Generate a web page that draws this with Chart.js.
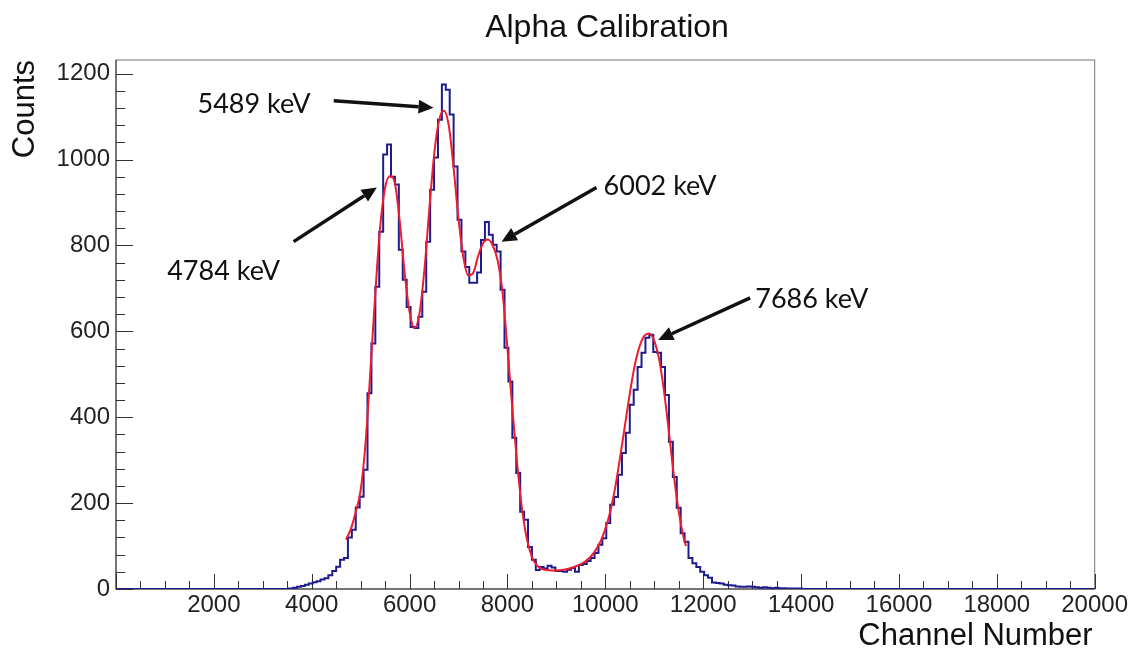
<!DOCTYPE html>
<html>
<head>
<meta charset="utf-8">
<script src="https://cdn.jsdelivr.net/npm/chart.js@4.4.1/dist/chart.umd.min.js"></script>
<style>
  html, body { margin: 0; padding: 0; background: #fff; }
  #c { display: block; }
</style>
</head>
<body>
<canvas id="c" width="1130" height="648"></canvas>
<script>
// histogram: 80-channel bins, first bin starts at channel 3540
const binStart = 3540;
const binWidth = 80;
const counts = [
  1, 3, 5, 7, 10, 13, 16, 18, 22, 25,
  32, 42, 52, 68, 72, 120, 138, 190, 215, 278,
  456, 572, 704, 832, 1012, 1035, 960, 942, 790, 720,
  657, 610, 608, 634, 692, 809, 930, 1005, 1093, 1175,
  1163, 1105, 984, 860, 786, 750, 713, 713, 737, 813,
  855, 825, 802, 786, 697, 562, 483, 352, 270, 180,
  161, 98, 68, 44, 51, 48, 54, 50, 42, 42,
  40, 45, 49, 40, 56, 58, 65, 72, 84, 103,
  118, 154, 196, 214, 266, 317, 364, 429, 464, 517,
  550, 585, 592, 552, 550, 517, 452, 343, 261, 189,
  130, 110, 72, 60, 51, 40, 32, 26, 15, 14,
  13, 10, 9, 8, 6, 5, 5, 6, 5, 4,
  3, 4, 3, 2, 3, 2, 2, 1, 1, 1, 1
];

// fitted curve
const fitX = [4700, 4800, 4900, 5000, 5100, 5200, 5300, 5400, 5500, 5600,
  5700, 5800, 5900, 6000, 6100, 6200, 6300, 6400, 6500, 6600,
  6700, 6800, 6900, 7000, 7100, 7200, 7300, 7400, 7500, 7600,
  7700, 7800, 7900, 8000, 8100, 8200, 8300, 8400, 8500, 8600,
  8700, 8800, 8900, 9000, 9100, 9200, 9300, 9400, 9500, 9600,
  9700, 9800, 9900, 10000, 10100, 10200, 10300, 10400, 10500, 10600,
  10700, 10800, 10900, 11000, 11100, 11200, 11300, 11400, 11500, 11600, 11650];
const fitY = [115, 140, 180, 230, 340, 510, 690, 845, 935, 962,
  945, 855, 735, 645, 608, 640, 740, 880, 1010, 1090,
  1114, 1080, 980, 862, 772, 730, 736, 775, 805, 814,
  800, 765, 690, 560, 420, 290, 185, 115, 75, 55,
  47, 44, 43, 43, 44, 46, 49, 53, 58, 65,
  75, 90, 110, 140, 180, 235, 305, 380, 455, 520,
  565, 590, 595, 578, 535, 460, 365, 265, 180, 120, 100];

const xTicks = [0, 2000, 4000, 6000, 8000, 10000, 12000, 14000, 16000, 18000, 20000];
const yTicks = [0, 200, 400, 600, 800, 1000, 1200];

const peakLabels = ['5489 keV', '4784 keV', '6002 keV', '7686 keV'];
// label centre and arrow (from -> to), in channel / counts units
const labelPos = [[2820, 1130], [2200, 739], [11120, 939], [14220, 674]];
const arrowFrom = [[4450, 1137], [3630, 809], [9820, 935], [12960, 678]];
const arrowTo = [[6490, 1121], [5330, 935], [7880, 809], [11080, 580]];

const histPoints = [{ x: 0, y: 0 }];
counts.forEach((c, i) => histPoints.push({ x: binStart + i * binWidth, y: c }));
histPoints.push({ x: binStart + counts.length * binWidth, y: 0 });
histPoints.push({ x: 20000, y: 0 });

const fitPoints = fitX.map((x, i) => ({ x: x, y: fitY[i] }));

const sans = "'Liberation Sans', Arial, Helvetica, sans-serif";

const rootStyle = {
  id: 'rootStyle',
  beforeDatasetsDraw(chart) {
    const { ctx, chartArea: a, scales } = chart;
    ctx.save();
    ctx.strokeStyle = '#8a8a8a';
    ctx.lineWidth = 1.2;
    ctx.strokeRect(a.left, a.top, a.right - a.left, a.bottom - a.top);
    ctx.strokeStyle = '#333';
    ctx.lineWidth = 1;
    // y ticks inside frame
    ctx.beginPath();
    for (let v = 0; v <= scales.y.max; v += 40) {
      const y = Math.round(scales.y.getPixelForValue(v)) + 0.5;
      const len = v % 200 === 0 ? 17 : 9;
      ctx.moveTo(a.left, y);
      ctx.lineTo(a.left + len, y);
    }
    // x ticks inside frame
    for (let v = 0; v <= 20000; v += 500) {
      const x = Math.round(scales.x.getPixelForValue(v)) + 0.5;
      const len = v % 2000 === 0 ? 15 : 8;
      ctx.moveTo(x, a.bottom);
      ctx.lineTo(x, a.bottom - len);
    }
    ctx.stroke();
    ctx.beginPath();
    ctx.moveTo(a.left, a.top);
    ctx.lineTo(a.left, a.bottom);
    ctx.lineTo(a.right, a.bottom);
    ctx.stroke();
    ctx.restore();
  },
  afterDatasetsDraw(chart) {
    const { ctx, scales } = chart;
    const px = p => [scales.x.getPixelForValue(p[0]), scales.y.getPixelForValue(p[1])];
    ctx.save();
    ctx.fillStyle = '#111';
    ctx.strokeStyle = '#111';
    ctx.lineWidth = 3.5;
    ctx.font = "27px Lato, 'Open Sans', sans-serif";
    ctx.textAlign = 'center';
    ctx.textBaseline = 'middle';
    peakLabels.forEach((t, i) => {
      const [lx, ly] = px(labelPos[i]);
      ctx.fillText(t, lx, ly);
      const [x0, y0] = px(arrowFrom[i]);
      const [x1, y1] = px(arrowTo[i]);
      const ang = Math.atan2(y1 - y0, x1 - x0);
      const head = 15;
      const bx = x1 - head * Math.cos(ang);
      const by = y1 - head * Math.sin(ang);
      ctx.beginPath();
      ctx.moveTo(x0, y0);
      ctx.lineTo(bx, by);
      ctx.stroke();
      ctx.beginPath();
      ctx.moveTo(x1, y1);
      ctx.lineTo(bx + 7 * Math.sin(ang), by - 7 * Math.cos(ang));
      ctx.lineTo(bx - 7 * Math.sin(ang), by + 7 * Math.cos(ang));
      ctx.closePath();
      ctx.fill();
    });
    ctx.restore();
  },
  afterDraw(chart) {
    const { ctx, chartArea: a } = chart;
    ctx.save();
    ctx.fillStyle = '#111';
    ctx.font = '32px ' + sans;
    ctx.textAlign = 'center';
    ctx.textBaseline = 'alphabetic';
    ctx.fillText('Alpha Calibration', 607, 37);
    ctx.font = '31px ' + sans;
    ctx.textAlign = 'right';
    ctx.fillText('Channel Number', a.right - 2, 645);
    ctx.translate(25, a.top);
    ctx.rotate(-Math.PI / 2);
    ctx.textBaseline = 'middle';
    ctx.fillText('Counts', 0, 0);
    ctx.restore();
  }
};

new Chart(document.getElementById('c').getContext('2d'), {
  type: 'scatter',
  data: {
    datasets: [
      {
        label: 'Counts',
        data: histPoints,
        showLine: true,
        stepped: true,
        borderColor: '#1c1c8e',
        borderWidth: 2,
        pointRadius: 0,
        fill: false,
        order: 2
      },
      {
        label: 'Fit',
        data: fitPoints,
        showLine: true,
        cubicInterpolationMode: 'monotone',
        borderColor: '#ee1c2e',
        borderWidth: 2,
        pointRadius: 0,
        fill: false,
        order: 1
      }
    ]
  },
  options: {
    responsive: false,
    animation: false,
    devicePixelRatio: 1,
    layout: { padding: { top: 60, right: 33, left: 0, bottom: 0 } },
    plugins: {
      legend: { display: false },
      tooltip: { enabled: false },
      title: { display: false }
    },
    scales: {
      x: {
        type: 'linear',
        min: 0,
        max: 20000,
        afterBuildTicks: s => { s.ticks = xTicks.map(v => ({ value: v })); },
        afterFit: s => { s.height = 59; },
        ticks: {
          callback: v => (v === 0 ? '' : String(v)),
          font: { family: sans, size: 24 },
          color: '#222',
          padding: 2,
          maxRotation: 0,
          autoSkip: false
        },
        grid: { display: false, drawTicks: false },
        border: { display: false }
      },
      y: {
        type: 'linear',
        min: 0,
        max: 1232,
        afterBuildTicks: s => { s.ticks = yTicks.map(v => ({ value: v })); },
        afterFit: s => { s.width = 116; },
        ticks: {
          callback: v => String(v),
          font: { family: sans, size: 24 },
          color: '#222',
          padding: 6,
          autoSkip: false
        },
        grid: { display: false, drawTicks: false },
        border: { display: false }
      }
    }
  },
  plugins: [rootStyle]
});
</script>
</body>
</html>
